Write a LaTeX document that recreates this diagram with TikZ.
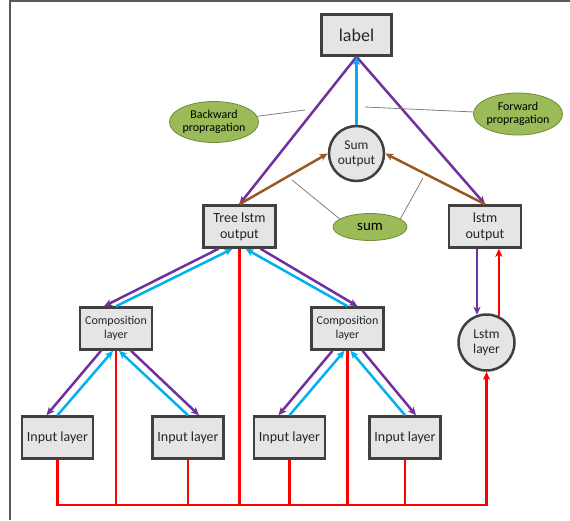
\documentclass[tikz,border=0pt]{standalone}
\usepackage{fontspec}
\setmainfont{Carlito}
\usetikzlibrary{arrows.meta, shapes.geometric}

\definecolor{bwdcol}{HTML}{7030A0}
\definecolor{fwdcol}{HTML}{00B0F0}
\definecolor{sumcol}{HTML}{985A22}
\definecolor{notefill}{HTML}{9BBB59}
\definecolor{notedraw}{HTML}{6E8A3A}

\begin{document}
\begin{tikzpicture}[x=1pt, y=-1pt,
    every node/.style={align=center, text=black!85},
    box/.style={draw=black!75, line width=2.5pt, fill=gray!20, minimum width=72pt, minimum height=42pt, inner sep=1pt, font=\fontsize{14}{16}\selectfont},
    roundbox/.style={circle, draw=black!75, line width=2.5pt, fill=gray!20, inner sep=1pt, font=\fontsize{13.5}{15.5}\selectfont},
    notebox/.style={ellipse, draw=notedraw, line width=0.8pt, fill=notefill, inner sep=0pt, text=black, font=\fontsize{12}{13.5}\selectfont},
    bwd/.style={-{Stealth[length=8pt, width=7pt, inset=2pt]}, line width=2.5pt, bwdcol},
    fwd/.style={-{Stealth[length=8pt, width=7pt, inset=2pt]}, line width=2.5pt, fwdcol},
    sumarrow/.style={-{Stealth[length=8pt, width=7pt, inset=2pt]}, line width=2.5pt, sumcol},
    redline/.style={line width=2.5pt, red},
    notelink/.style={gray, line width=0.8pt}]

    \useasboundingbox (0,0) rectangle (570,520);
    % Frame
    \draw[black!65, line width=1.2pt] (570,1) -- (10,1) -- (10,520);

    % Nodes upper part
    \node[box, minimum width=70pt, minimum height=41pt, font=\fontsize{18}{20}\selectfont] (label) at (356.5,35) {label};
    \node[roundbox, minimum size=55pt] (sum) at (356.5,153.5) {Sum\\output};
    \node[box] (tree) at (239.5,226.5) {Tree lstm\\output};
    \node[box] (lstm-out) at (485,226.5) {lstm\\output};
    % Notes
    \node[notebox, minimum width=86pt, minimum height=41pt] (back-note) at (214,122) {Backward\\propragation};
    \node[notebox, minimum width=88pt, minimum height=42pt] (fwd-note) at (518,114) {Forward\\propragation};
    \node[notebox, minimum width=74pt, minimum height=27pt, font=\fontsize{15}{17}\selectfont] (sum-note) at (370,227) {sum};
    % Nodes lower part
    \node[box, font=\fontsize{12}{14}\selectfont] (comp-left) at (116,328.5) {Composition\\layer};
    \node[box, font=\fontsize{12}{14}\selectfont] (comp-right) at (347.5,328.5) {Composition\\layer};
    \node[roundbox, minimum size=56pt] (lstm-layer) at (486.5,342.5) {Lstm\\layer};
    \node[box, minimum width=71pt] (in1) at (57.5,437.5) {Input layer};
    \node[box, minimum width=71pt] (in2) at (188,437.5) {Input layer};
    \node[box, minimum width=71pt] (in3) at (289.5,437.5) {Input layer};
    \node[box, minimum width=71pt] (in4) at (405,437.5) {Input layer};

    % Arrows upper part
    \draw[bwd] (label.south) -- (tree.north);
    \draw[bwd] (label.south) -- (lstm-out.north);
    \draw[fwd] (sum.north) -- (label.south);
    \draw[sumarrow] (tree.north) -- (sum.west);
    \draw[sumarrow] (lstm-out.north) -- (sum.east);
    % Note lines
    \coordinate (back-pt) at (305,110);
    \coordinate (fwd-pt) at (365,107);
    \coordinate (sum-pt-l) at (292,180);
    \coordinate (sum-pt-r) at (423,178);
    \draw[notelink] (back-note) -- (back-pt);
    \draw[notelink] (fwd-pt) -- (fwd-note);
    \draw[notelink] (sum-pt-l) -- (sum-note.165);
    \draw[notelink] (sum-pt-r) -- (sum-note.15);

    % Arrows tree - composition
    \draw[bwd] ([xshift=-21pt]tree.south) -- ([xshift=-12pt]comp-left.north);
    \draw[fwd] (comp-left.north) -- ([xshift=-7pt]tree.south);
    \draw[fwd] (comp-right.north) -- ([xshift=6pt]tree.south);
    \draw[bwd] ([xshift=21pt]tree.south) -- ([xshift=10pt]comp-right.north);
    % Arrows composition - input
    \draw[bwd] ([xshift=-15pt]comp-left.south) -- ([xshift=-11pt]in1.north);
    \draw[fwd] (in1.north) -- ([xshift=-3pt]comp-left.south);
    \draw[fwd] (in2.north) -- ([xshift=3pt]comp-left.south);
    \draw[bwd] ([xshift=15pt]comp-left.south) -- ([xshift=11pt]in2.north);
    \draw[bwd] ([xshift=-15pt]comp-right.south) -- ([xshift=-11pt]in3.north);
    \draw[fwd] (in3.north) -- ([xshift=-3pt]comp-right.south);
    \draw[fwd] (in4.north) -- ([xshift=3pt]comp-right.south);
    \draw[bwd] ([xshift=15pt]comp-right.south) -- ([xshift=11pt]in4.north);
    % Arrows lstm
    \draw[bwd] (lstm-layer.109 |- lstm-out.south) -- (lstm-layer.109);
    \draw[redline, -{Stealth[length=8pt, width=7pt, inset=2pt]}] (lstm-layer.65) -- (lstm-layer.65 |- lstm-out.south);

    % Red bus
    \coordinate (bus-end) at (486.5,505);
    \draw[redline, -{Stealth[length=8pt, width=7pt, inset=2pt]}] (in1.south) |- (bus-end) -- (lstm-layer.south);
    \draw[redline] (in2.south) -- (in2.south |- bus-end);
    \draw[redline] (in3.south) -- (in3.south |- bus-end);
    \draw[redline] (in4.south) -- (in4.south |- bus-end);
    \draw[redline] (comp-left.south |- bus-end) -- (comp-left.south);
    \draw[redline] (comp-right.south |- bus-end) -- (comp-right.south);
    \draw[redline] (tree.south |- bus-end) -- (tree.south);
\end{tikzpicture}
\end{document}
